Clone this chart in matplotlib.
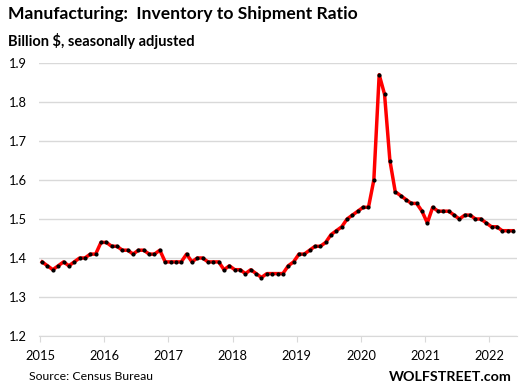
import numpy as np
import matplotlib.pyplot as plt

# inventory to shipment ratio, monthly, Jan 2015 .. May 2022
ratio_2015 = [1.39, 1.38, 1.37, 1.38, 1.39, 1.38, 1.39, 1.40, 1.40, 1.41, 1.41, 1.44]
ratio_2016 = [1.44, 1.43, 1.43, 1.42, 1.42, 1.41, 1.42, 1.42, 1.41, 1.41, 1.42, 1.39]
ratio_2017 = [1.39, 1.39, 1.39, 1.41, 1.39, 1.40, 1.40, 1.39, 1.39, 1.39, 1.37, 1.38]
ratio_2018 = [1.37, 1.37, 1.36, 1.37, 1.36, 1.35, 1.36, 1.36, 1.36, 1.36, 1.38, 1.39]
ratio_2019 = [1.41, 1.41, 1.42, 1.43, 1.43, 1.44, 1.46, 1.47, 1.48, 1.50, 1.51, 1.52]
ratio_2020 = [1.53, 1.53, 1.60, 1.87, 1.82, 1.65, 1.57, 1.56, 1.55, 1.54, 1.54, 1.52]
ratio_2021 = [1.49, 1.53, 1.52, 1.52, 1.52, 1.51, 1.50, 1.51, 1.51, 1.50, 1.50, 1.49]
ratio_2022 = [1.48, 1.48, 1.47, 1.47, 1.47]

years = list(range(2015, 2023))
ratio = ratio_2015 + ratio_2016 + ratio_2017 + ratio_2018 + ratio_2019 + ratio_2020 + ratio_2021 + ratio_2022
t = 2015 + (np.arange(len(ratio)) + 0.4) / 12

plt.rcParams['font.family'] = ['Lato', 'DejaVu Sans']

fig = plt.figure(figsize=(5.22, 3.9), dpi=100)
ax = fig.add_axes([39 / 522, 1 - 336 / 390, (517 - 39) / 522, (336 - 63) / 390])

ax.plot(t, ratio, color='red', lw=2.5, zorder=3)
ax.plot(t, ratio, ls='none', marker='o', ms=2, color='black', zorder=4)

ax.set_ylim(1.2, 1.9)
ax.set_xlim(2015 - 1 / 64.2, 2015 + 477 / 64.2)
ax.set_yticks(np.arange(1.2, 1.95, 0.1))
ax.set_yticklabels([f'{v:.1f}' for v in np.arange(1.2, 1.95, 0.1)])
ax.set_xticks(years)
ax.set_xticklabels([str(y) for y in years])
ax.grid(axis='y', color='#d9d9d9', lw=1)
ax.set_axisbelow(True)
for s in ['top', 'right', 'left']:
    ax.spines[s].set_visible(False)
ax.spines['bottom'].set_color('#d9d9d9')
ax.tick_params(axis='y', length=0, pad=8.5, labelsize=9.3)
ax.tick_params(axis='x', length=4, color='#d9d9d9', pad=6, labelsize=9.3)

fig.text(8 / 522, 1 - 14 / 390, 'Manufacturing:  Inventory to Shipment Ratio',
         fontsize=12.6, fontweight='bold', va='center')
fig.text(8 / 522, 1 - 41 / 390, 'Billion $, seasonally adjusted',
         fontsize=10.5, fontweight='bold', va='center')
fig.text(29 / 522, 1 - 377 / 390, 'Source: Census Bureau', fontsize=8.8, va='center')
fig.text(512 / 522, 1 - 377 / 390, 'WOLFSTREET.com', fontsize=10.3, fontweight='bold',
         va='center', ha='right')

fig.savefig('out.png', dpi=100)
